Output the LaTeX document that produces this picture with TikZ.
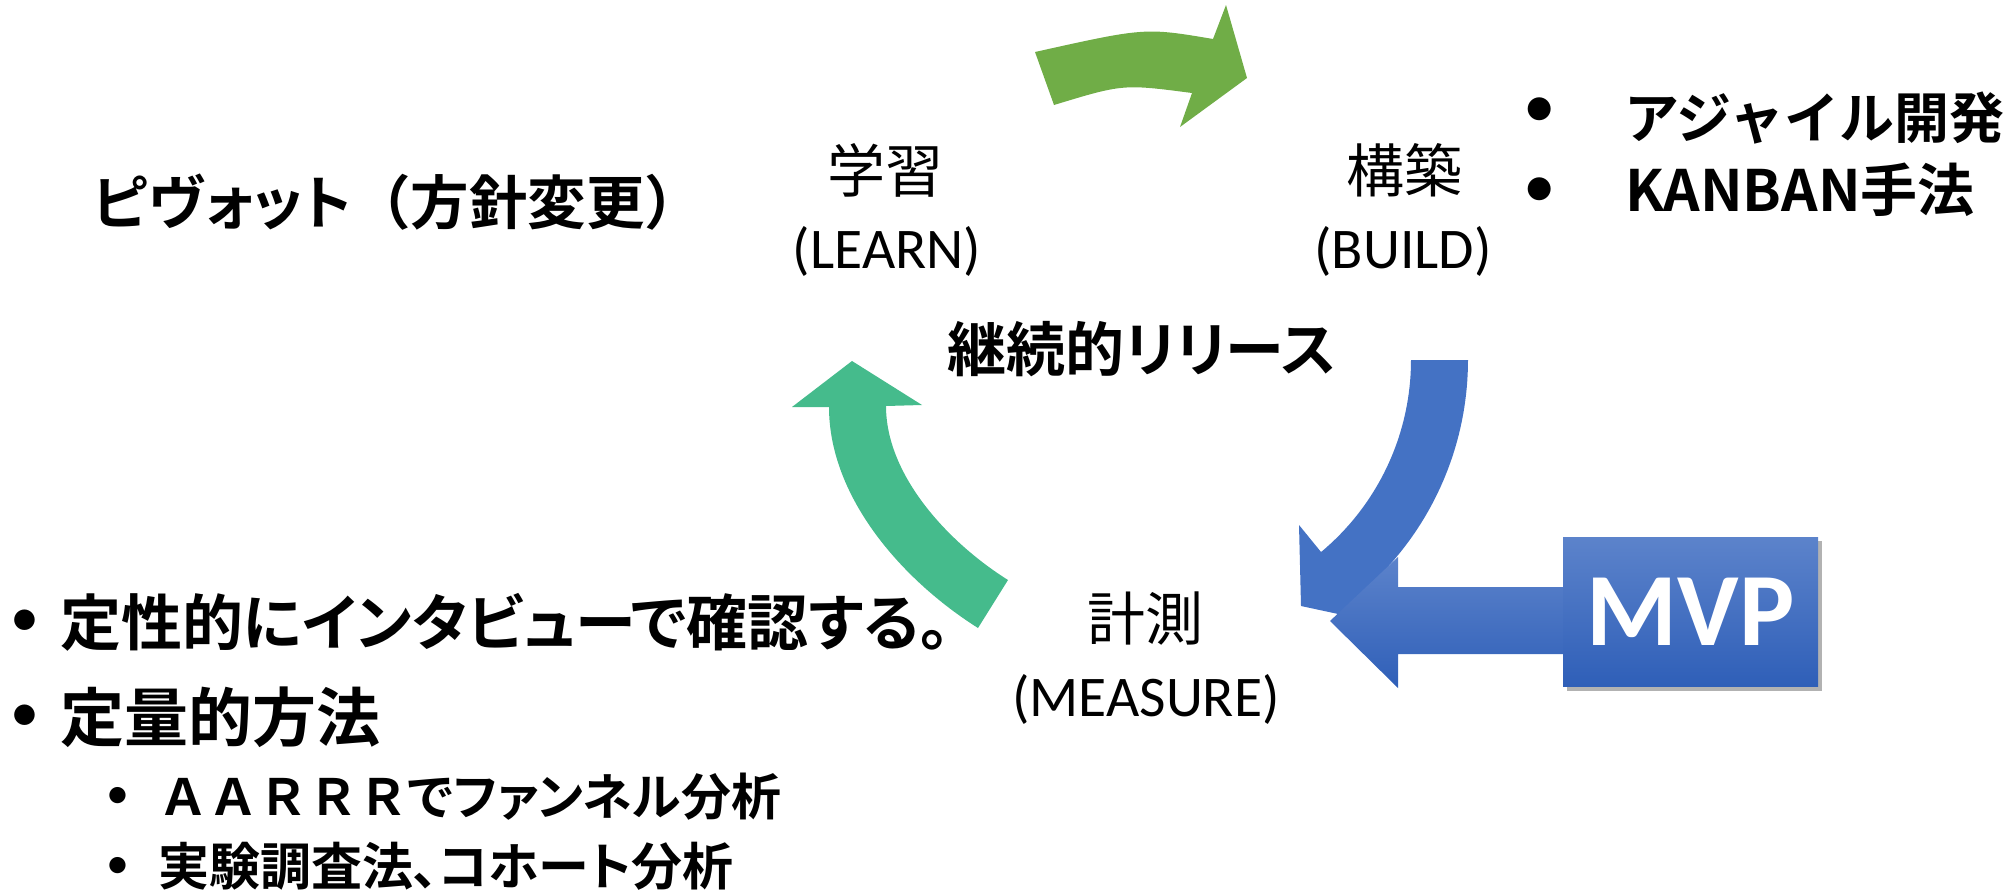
\documentclass[tikz,border=0pt]{standalone}
\usepackage{fontspec}
\setmainfont{Carlito}
\newfontfamily\jp{Noto Sans CJK JP}
\newfontfamily\jpb[RawFeature=+palt]{Noto Sans CJK JP Bold}
\newfontfamily\jpbm{Noto Sans CJK JP Bold}
\newcommand\fs[1]{\fontsize{#1}{#1}\selectfont}
\definecolor{arrowgreen}{HTML}{70AD47}
\definecolor{arrowteal}{HTML}{45BB8C}
\definecolor{arrowblue}{HTML}{4472C4}
\definecolor{mvptop}{HTML}{5C83CB}
\definecolor{mvpbot}{HTML}{2F5FB8}
\begin{document}
\begin{tikzpicture}[x=1pt,y=-1pt,
  every node/.style={inner sep=0pt, outer sep=0pt},
  jptext/.style={font=\jp\fs{58}},
  entext/.style={font=\fs{57.5}},
  bigdot/.style={font=\fs{#1}},
  mvpbox/.style={minimum width=255pt, minimum height=149pt, top color=mvptop, bottom color=mvpbot, text=white, font=\bfseries\fs{104}}]
\useasboundingbox (0,0) rectangle (2016,889);

% green arrow (learn -> build)
\fill[arrowgreen] (1035,52) .. controls (1145,27.5) .. (1213,39) -- (1226,5) -- (1247,78) -- (1180,127) -- (1192,93) .. controls (1123,84) .. (1054,105) -- cycle;

% teal arrow (measure -> learn)
\fill[arrowteal] (852,361) -- (922,405) -- (886,406) .. controls (886,476) and (949,543) .. (1008,580) -- (978,628) .. controls (902,580) and (829,497) .. (829,407) -- (792,407) -- cycle;

% blue curved arrow (build -> measure)
\fill[arrowblue] (1411,360) -- (1468,360)
  -- plot[domain=0:50.2, samples=40] ({1161+307*cos(\x)},{360+307*sin(\x)})
  -- (1380,623) -- (1301,606) -- (1299,525) -- (1321,552)
  -- plot[domain=50.2:0, samples=40] ({1161+250*cos(\x)},{360+250*sin(\x)}) -- cycle;

% MVP box with shadow
\fill[black, opacity=0.3] (1567,541) rectangle (1822,691);
\node[mvpbox] (mvp) at (1690.5,611.5) {MVP};

% straight arrow from MVP
\shade[top color=mvptop, bottom color=mvpbot] (1330,621) -- (1398,557) -- (1398,587) -- (mvp.west |- 0,587) -- (mvp.west |- 0,654) -- (1398,654) -- (1398,688) -- cycle;

% cycle labels
\node[jptext] (learnjp) at (885,170) {学習};
\node[entext] (learnen) at (887,251) {(LEARN)};
\node[jptext] (buildjp) at (1404,170) {構築};
\node[entext] (builden) at (1403,251) {(BUILD)};
\node[jptext] (measjp) at (1145,619) {計測};
\node[entext] (measen) at (1146,699) {(MEASURE)};
\node[font=\jpb\fs{59}] (release) at (1142,349) {継続的リリース};
\node[anchor=west, font=\fs{58.5}] (pivot) at (93,202) {{\jpb ピヴォット}{\jpbm （方針変更）}};

% top right bullets
\node[bigdot=65] (b1) at (1540,113) {•};
\node[anchor=west, font=\jpbm\fs{55}] (agile) at (1624,118) {アジャイル開発};
\node[bigdot=65] (b2) at (1540,193) {•};
\node[anchor=west, font=\jpbm\fs{57}] (kanban) at (1625,190) {KANBAN手法};

% bottom left bullets
\node[bigdot=58] (b3) at (25,623) {•};
\node[anchor=west, font=\jpb\fs{61}] (qual) at (60,622) {定性的にインタビューで確認する。};
\node[bigdot=58] (b4) at (25,718) {•};
\node[anchor=west, font=\jpb\fs{64}] (quant) at (60,717) {定量的方法};
\node[bigdot=46] (b5) at (118,798) {•};
\node[anchor=west, font=\fs{50}] (aarrr) at (158,797) {{\jpbm ＡＡＲＲＲ}{\jpb でファンネル分析}};
\node[bigdot=46] (b6) at (118,868) {•};
\node[anchor=west, font=\jpb\fs{51}] (expm) at (158,866) {実験調査法、コホート分析};
\end{tikzpicture}
\end{document}
